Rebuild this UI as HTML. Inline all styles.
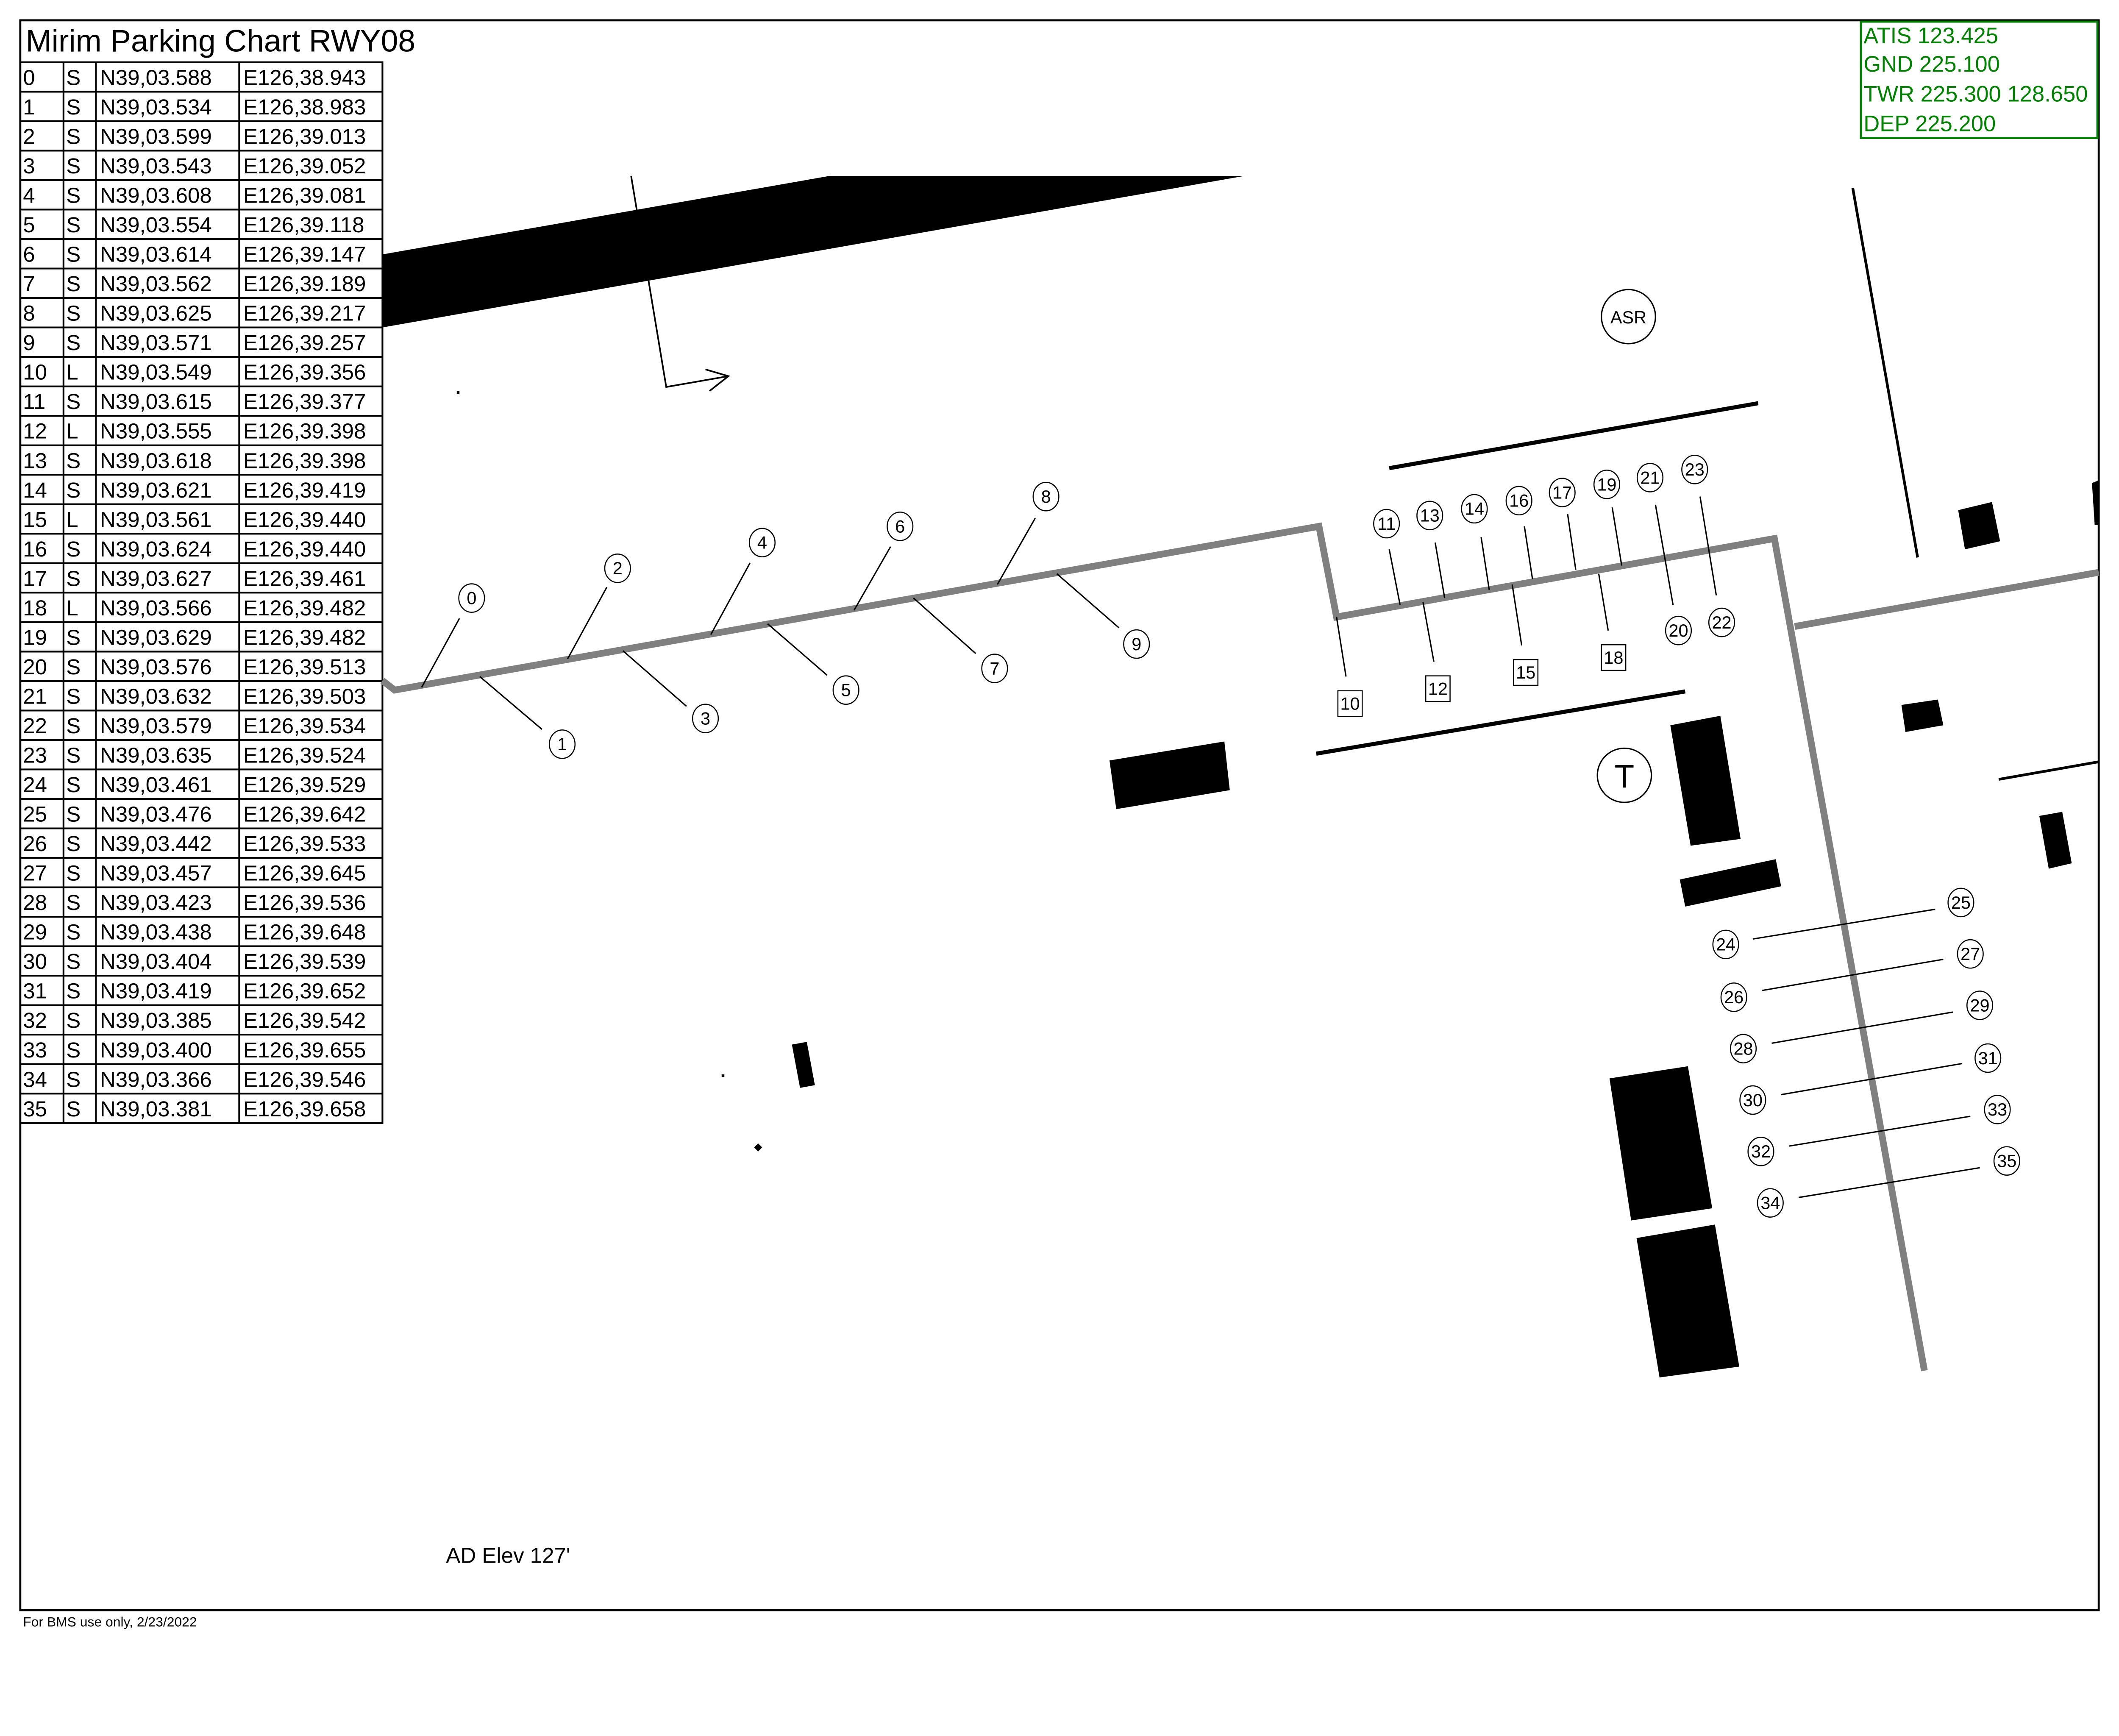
<!DOCTYPE html>
<html><head><meta charset="utf-8"><style>
html,body{margin:0;padding:0;background:#fff;width:100%;height:100%;overflow:hidden;}
svg{display:block;width:100vw;height:100vh;}
text{font-family:"Liberation Sans",Arial,sans-serif;}
</style></head><body>
<svg viewBox="0 0 1568 1283" preserveAspectRatio="none" xmlns="http://www.w3.org/2000/svg">
<rect x="0" y="0" width="1568" height="1283" fill="#fff"/>
<rect x="15" y="15" width="1538" height="1175" fill="none" stroke="#000" stroke-width="1.5"/>
<text x="19" y="38" font-size="23">Mirim Parking Chart RWY08</text>
<g stroke="#000" stroke-width="1.3" fill="none">
<rect x="15" y="46" width="268" height="784"/>
<line x1="47" y1="46" x2="47" y2="830"/><line x1="71" y1="46" x2="71" y2="830"/><line x1="177" y1="46" x2="177" y2="830"/>
</g>
<g id="rows" font-size="16"></g>
<rect x="1377" y="16" width="175" height="86" fill="#fff" stroke="#008000" stroke-width="1.5"/>
<g fill="#008000" font-size="16.5">
<text x="1379" y="32">ATIS 123.425</text>
<text x="1379" y="53">GND 225.100</text>
<text x="1379" y="75">TWR 225.300 128.650</text>
<text x="1379" y="97">DEP 225.200</text>
</g>
<polygon points="283,188 614,130 921,130 283,242" fill="#000"/>
<polyline points="467,130 493,286 539,278" fill="none" stroke="#000" stroke-width="1.2"/>
<polyline points="522,273 539,278 525,289" fill="none" stroke="#000" stroke-width="1.2"/>
<g fill="none" stroke="#808080" stroke-width="5" stroke-linejoin="miter">
<polyline points="283,503 292,510 976,389 989,456 1313,398 1424,1013"/>
<line x1="1328" y1="463" x2="1553" y2="423"/>
</g>
<g stroke="#000" stroke-width="3">
<line x1="1028" y1="346" x2="1301" y2="298"/>
<line x1="974" y1="557" x2="1247" y2="511"/>
<line x1="1371" y1="139" x2="1419" y2="412" stroke-width="2"/>
<line x1="1479" y1="576" x2="1553" y2="563" stroke-width="2"/>
</g>
<g fill="#000">
<polygon points="821,562 906,548 910,584 826,598"/>
<polygon points="1236,536 1273,529 1288,620 1251,625"/>
<polygon points="1243,650 1314,635 1318,655 1247,670"/>
<polygon points="1191,797 1249,788 1267,893 1207,902"/>
<polygon points="1211,915 1269,905 1287,1010 1228,1018"/>
<polygon points="1449,377 1474,371 1480,400 1454,406"/>
<polygon points="1407,521 1434,517 1438,536 1410,541"/>
<polygon points="1509,603 1526,600 1533,638 1516,642"/>
<polygon points="586,772 597,770 603,802 592,804"/>
<polygon points="1548,357 1553,355 1553,388 1550,388"/>
<rect x="338" y="289" width="2" height="2"/>
<rect x="534" y="794" width="2" height="2"/>
<polygon points="561,845 564,848 561,851 558,848"/>
</g>
<g stroke="#000" stroke-width="1">
<line x1="312" y1="508" x2="340" y2="457"/>
<line x1="355" y1="500" x2="401" y2="539"/>
<line x1="420" y1="487" x2="449" y2="434"/>
<line x1="461" y1="481" x2="508" y2="522"/>
<line x1="526" y1="469" x2="555" y2="416"/>
<line x1="568" y1="461" x2="612" y2="499"/>
<line x1="632" y1="451" x2="659" y2="404"/>
<line x1="676" y1="442" x2="722" y2="483"/>
<line x1="738" y1="432" x2="766" y2="383"/>
<line x1="782" y1="424" x2="828" y2="464"/>
<line x1="989" y1="456" x2="996" y2="500"/>
<line x1="1028" y1="406" x2="1036" y2="447"/>
<line x1="1053" y1="445" x2="1061" y2="489"/>
<line x1="1062" y1="401" x2="1069" y2="442"/>
<line x1="1096" y1="397" x2="1102" y2="436"/>
<line x1="1119" y1="432" x2="1126" y2="477"/>
<line x1="1128" y1="389" x2="1134" y2="428"/>
<line x1="1160" y1="380" x2="1166" y2="421"/>
<line x1="1183" y1="424" x2="1190" y2="466"/>
<line x1="1193" y1="375" x2="1200" y2="418"/>
<line x1="1225" y1="373" x2="1238" y2="447"/>
<line x1="1258" y1="367" x2="1270" y2="440"/>
<line x1="1297" y1="694" x2="1432" y2="672"/>
<line x1="1304" y1="732" x2="1438" y2="709"/>
<line x1="1311" y1="771" x2="1445" y2="748"/>
<line x1="1318" y1="809" x2="1452" y2="786"/>
<line x1="1324" y1="847" x2="1458" y2="825"/>
<line x1="1331" y1="885" x2="1465" y2="863"/>
</g>
<g id="marks" font-size="13" text-anchor="middle" stroke="#000" stroke-width="0.8" fill="#fff"></g>
<circle cx="1205" cy="234" r="20" fill="#fff" stroke="#000" stroke-width="1"/>
<text x="1205" y="239" font-size="13" text-anchor="middle">ASR</text>
<circle cx="1202" cy="573" r="20" fill="#fff" stroke="#000" stroke-width="1"/>
<text x="1202" y="582" font-size="24" text-anchor="middle">T</text>
<text x="330" y="1155" font-size="16">AD Elev 127'</text>
<text x="17" y="1202" font-size="10">For BMS  use only, 2/23/2022</text>
<script>
var d=[["0","S","N39,03.588","E126,38.943"],["1","S","N39,03.534","E126,38.983"],["2","S","N39,03.599","E126,39.013"],["3","S","N39,03.543","E126,39.052"],["4","S","N39,03.608","E126,39.081"],["5","S","N39,03.554","E126,39.118"],["6","S","N39,03.614","E126,39.147"],["7","S","N39,03.562","E126,39.189"],["8","S","N39,03.625","E126,39.217"],["9","S","N39,03.571","E126,39.257"],["10","L","N39,03.549","E126,39.356"],["11","S","N39,03.615","E126,39.377"],["12","L","N39,03.555","E126,39.398"],["13","S","N39,03.618","E126,39.398"],["14","S","N39,03.621","E126,39.419"],["15","L","N39,03.561","E126,39.440"],["16","S","N39,03.624","E126,39.440"],["17","S","N39,03.627","E126,39.461"],["18","L","N39,03.566","E126,39.482"],["19","S","N39,03.629","E126,39.482"],["20","S","N39,03.576","E126,39.513"],["21","S","N39,03.632","E126,39.503"],["22","S","N39,03.579","E126,39.534"],["23","S","N39,03.635","E126,39.524"],["24","S","N39,03.461","E126,39.529"],["25","S","N39,03.476","E126,39.642"],["26","S","N39,03.442","E126,39.533"],["27","S","N39,03.457","E126,39.645"],["28","S","N39,03.423","E126,39.536"],["29","S","N39,03.438","E126,39.648"],["30","S","N39,03.404","E126,39.539"],["31","S","N39,03.419","E126,39.652"],["32","S","N39,03.385","E126,39.542"],["33","S","N39,03.400","E126,39.655"],["34","S","N39,03.366","E126,39.546"],["35","S","N39,03.381","E126,39.658"]];
var NS="http://www.w3.org/2000/svg",g=document.getElementById("rows"),h=784/36,xs=[17,49,74,180];
d.forEach(function(r,i){var y=46+h*(i+1);
 if(i<35){var l=document.createElementNS(NS,"line");l.setAttribute("x1",15);l.setAttribute("x2",283);l.setAttribute("y1",y);l.setAttribute("y2",y);l.setAttribute("stroke","#000");l.setAttribute("stroke-width","1.3");g.appendChild(l);}
 r.forEach(function(t,j){var e=document.createElementNS(NS,"text");e.setAttribute("x",xs[j]);e.setAttribute("y",y-5);e.textContent=t;g.appendChild(e);});});
var m=document.getElementById("marks");
var c=[[0,349,442],[1,416,550],[2,457,420],[3,522,531],[4,564,401],[5,626,510],[6,666,389],[7,736,494],[8,774,367],[9,841,476],
[11,1026,387],[13,1058,381],[14,1091,376],[16,1124,370],[17,1156,364],[19,1189,358],[21,1221,353],[23,1254,347],[20,1242,466],[22,1274,460],
[24,1277,698],[25,1451,667],[26,1283,737],[27,1458,705],[28,1290,775],[29,1465,743],[30,1297,813],[31,1471,782],[32,1303,851],[33,1478,820],[34,1310,889],[35,1485,858]];
c.forEach(function(p){var e=document.createElementNS(NS,"ellipse");e.setAttribute("cx",p[1]);e.setAttribute("cy",p[2]);e.setAttribute("rx",9.5);e.setAttribute("ry",10.5);m.appendChild(e);
 var t=document.createElementNS(NS,"text");t.setAttribute("x",p[1]);t.setAttribute("y",p[2]+4.5);t.setAttribute("fill","#000");t.setAttribute("stroke","none");t.textContent=p[0];m.appendChild(t);});
[[10,999,520],[12,1064,509],[15,1129,497],[18,1194,486]].forEach(function(p){var e=document.createElementNS(NS,"rect");e.setAttribute("x",p[1]-9);e.setAttribute("y",p[2]-9.5);e.setAttribute("width",18);e.setAttribute("height",19);m.appendChild(e);
 var t=document.createElementNS(NS,"text");t.setAttribute("x",p[1]);t.setAttribute("y",p[2]+4.5);t.setAttribute("fill","#000");t.setAttribute("stroke","none");t.textContent=p[0];m.appendChild(t);});
</script>
</svg>
</body></html>
